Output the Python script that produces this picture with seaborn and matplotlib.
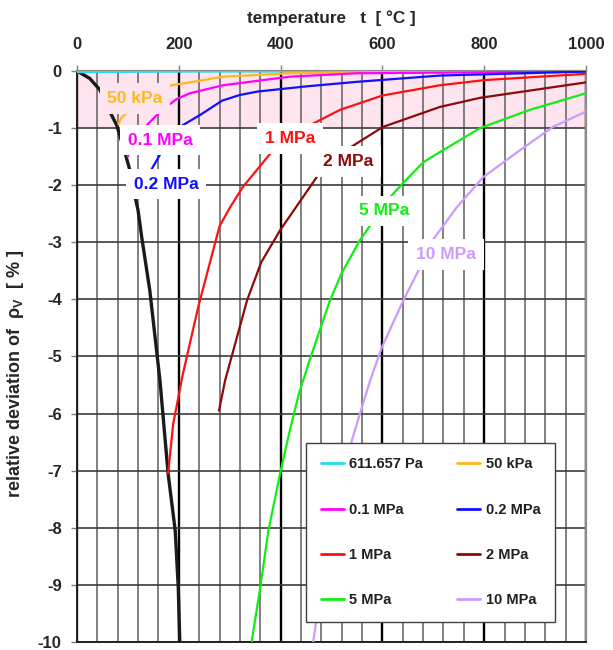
import numpy as np
import pandas as pd
import matplotlib
matplotlib.use("Agg")
import matplotlib.pyplot as plt
import seaborn as sns

# ---- data: relative deviation of vapour density [%] vs temperature [°C] ----
sat_t = [0, 25, 45, 65, 78, 94, 104, 114, 120, 127, 143, 163, 179, 193, 199, 202]
sat_d = [0, -0.13, -0.33, -0.72, -0.95, -1.42, -1.74, -2.2, -2.44, -2.9, -3.84,
         -5.42, -7.05, -8.05, -9.05, -10.0]

p611_t = [0, 200, 1000]
p611_d = [-0.02, -0.01, 0.0]

p50k_t = [81.3, 88, 107, 130, 160, 186, 222, 287, 418, 600, 1000]
p50k_d = [-0.93, -0.81, -0.66, -0.50, -0.35, -0.25, -0.20, -0.10, -0.04, -0.02, -0.01]

p01_t = [99.6, 115, 133.6, 166, 196, 222, 287, 418, 550, 1000]
p01_d = [-1.5, -1.22, -0.98, -0.69, -0.49, -0.39, -0.25, -0.10, -0.04, -0.01]

p02_t = [138, 143.4, 166, 202, 242, 285, 320, 355, 450, 550, 713, 1000]
p02_d = [-2.05, -1.77, -1.42, -0.98, -0.77, -0.52, -0.42, -0.36, -0.27, -0.19, -0.08, -0.01]

p1_t = [179, 189, 199, 207, 238, 280, 300, 326, 385, 451, 517, 600, 713, 800, 1000]
p1_d = [-7.05, -6.18, -5.72, -5.35, -4.14, -2.72, -2.40, -2.03, -1.39, -0.98, -0.68,
        -0.43, -0.25, -0.16, -0.05]

p2_t = [279, 291, 334, 362, 399, 474, 535, 601, 713, 792, 1000]
p2_d = [-5.95, -5.42, -4.02, -3.35, -2.79, -1.82, -1.35, -0.98, -0.63, -0.47, -0.2]

p5_t = [343, 360, 376, 399, 418, 436, 458, 477, 497, 520, 556, 615, 641, 680, 713, 792, 890, 1000]
p5_d = [-10.0, -9.05, -8.05, -7.05, -6.3, -5.65, -5.04, -4.54, -4.02, -3.54, -2.96,
        -2.21, -1.96, -1.60, -1.42, -1.0, -0.68, -0.39]

p10_t = [464, 469, 477, 490, 505, 520, 540, 556, 576, 599, 641, 674, 699, 746, 798, 870, 935, 1000]
p10_d = [-10.0, -9.7, -9.25, -8.55, -7.8, -7.15, -6.47, -6.0, -5.42, -4.84, -4.02,
         -3.44, -2.96, -2.39, -1.86, -1.39, -0.98, -0.71]

series_names = ["611.657 Pa", "50 kPa", "0.1 MPa", "0.2 MPa", "1 MPa", "2 MPa", "5 MPa", "10 MPa"]
series_t = [p611_t, p50k_t, p01_t, p02_t, p1_t, p2_t, p5_t, p10_t]
series_d = [p611_d, p50k_d, p01_d, p02_d, p1_d, p2_d, p5_d, p10_d]
series_colors = ["#22DDEE", "#FFB81C", "#FF00FF", "#1010FF", "#FF1010", "#8B0A0A", "#11EE11", "#CC99FF"]

x_ticks = [0, 200, 400, 600, 800, 1000]
y_ticks = [0, -1, -2, -3, -4, -5, -6, -7, -8, -9, -10]

# ---- style ----
sns.set_theme(style="white")
plt.rcParams["font.family"] = ["Liberation Sans", "DejaVu Sans"]
plt.rcParams["font.weight"] = "bold"
plt.rcParams["axes.unicode_minus"] = False
plt.rcParams["mathtext.fontset"] = "custom"
plt.rcParams["mathtext.rm"] = "Liberation Sans:bold"
plt.rcParams["mathtext.bf"] = "Liberation Sans:bold"

fig = plt.figure(figsize=(6.13, 6.5), dpi=100)
ax = fig.add_axes([0.1256, 0.0123, 0.8303, 0.8785])

# band of deviation below 1 %
band_color = "#FDE4EF"
ax.axhspan(-1, 0, color=band_color, zorder=0, lw=0)

# grid
ax.set_axisbelow(True)
ax.set_xticks(x_ticks)
ax.set_xticks(np.arange(0, 1001, 40), minor=True)
ax.set_yticks(y_ticks)
ax.grid(which="minor", axis="x", color="#5E5E5E", lw=1.1)
ax.grid(which="major", axis="x", color="black", lw=1.7)
ax.grid(which="major", axis="y", color="#3C3C3C", lw=1.2)

# saturation line
sns.lineplot(x=sat_t, y=sat_d, ax=ax, color="#1A1A1A", lw=2.4, sort=False,
             estimator=None, zorder=3)

handles = []
for name, t, d, c in zip(series_names, series_t, series_d, series_colors):
    df = pd.DataFrame({"t": t, "d": d})
    sns.lineplot(data=df, x="t", y="d", ax=ax, color=c, lw=1.6, sort=False,
                 estimator=None, zorder=3)
    handles.append(ax.lines[-1])

ax.set_xlim(0, 1000)
ax.set_ylim(-10, 0)

ax.xaxis.tick_top()
ax.xaxis.set_label_position("top")
ax.set_xticklabels([str(v) for v in x_ticks], fontsize=12, fontweight="bold")
ax.set_yticklabels([str(v) for v in y_ticks], fontsize=12, fontweight="bold")
ax.tick_params(axis="x", which="major", top=True, length=4, width=1, color="#808080", pad=10)
ax.tick_params(axis="x", which="minor", length=0)
ax.tick_params(axis="y", which="major", left=True, length=4, width=1, color="#808080", pad=7)

ax.set_xlabel("temperature   t  [ °C ]", fontsize=12.3, fontweight="bold", labelpad=10)
ax.set_ylabel("relative deviation of  ρ$_\\mathregular{V}$  [ % ]", fontsize=13,
              fontweight="bold")
ax.yaxis.set_label_coords(-0.1, 0.469)

for side in ["top", "right"]:
    ax.spines[side].set_color("#8C8C8C")
    ax.spines[side].set_linewidth(1.6)
for side in ["left", "bottom"]:
    ax.spines[side].set_color("#202020")
    ax.spines[side].set_linewidth(1.4)

# curve labels
label_pos = {
    "50 kPa": (114, -0.48),
    "0.1 MPa": (163, -1.21),
    "0.2 MPa": (175, -1.98),
    "1 MPa": (418, -1.18),
    "2 MPa": (532, -1.59),
    "5 MPa": (603, -2.45),
    "10 MPa": (725, -3.21),
}
for name, c in zip(series_names, series_colors):
    if name not in label_pos:
        continue
    x, y = label_pos[name]
    face = band_color if name == "50 kPa" else "white"
    ax.text(x, y, name, color=c, fontsize=12.5, fontweight="bold", ha="center",
            va="center", zorder=5,
            bbox=dict(boxstyle="square,pad=0.45", fc=face, ec="none"))

# legend (two columns, row-wise order)
order = [0, 2, 4, 6, 1, 3, 5, 7]
leg = ax.legend([handles[i] for i in order], [series_names[i] for i in order],
                ncol=2, loc="upper left", bbox_to_anchor=(0.45, 0.349, 0.489, 0.0),
                mode="expand", borderaxespad=0, fontsize=10.5, frameon=True,
                fancybox=False, framealpha=1, edgecolor="#404040",
                labelspacing=2.15, handlelength=1.6, handletextpad=0.35,
                columnspacing=1.5, borderpad=1.0)
leg.get_frame().set_linewidth(1.0)
leg.set_zorder(6)
for txt in leg.get_texts():
    txt.set_fontweight("bold")
    txt.set_color("#202020")
for lh in leg.get_lines():
    lh.set_linewidth(2.0)

fig.savefig("out.png", dpi=100)
